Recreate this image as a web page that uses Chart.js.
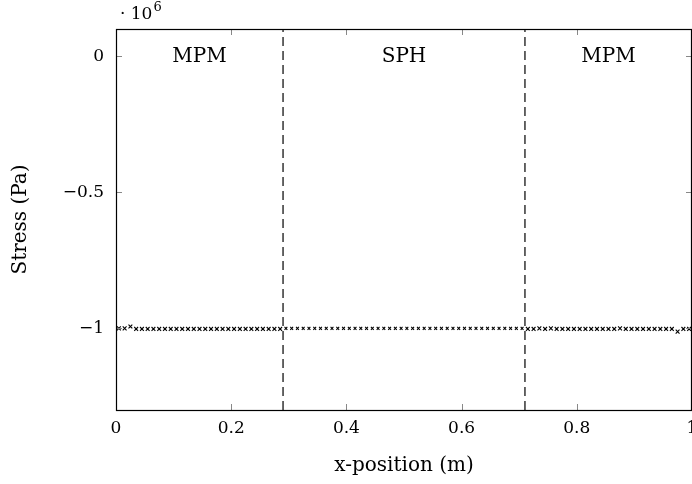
<!DOCTYPE html>
<html><head><meta charset="utf-8">
<script src="https://cdn.jsdelivr.net/npm/chart.js@4"></script>
<style>html,body{margin:0;padding:0;background:#fff}</style>
</head><body>
<canvas id="c" width="692" height="484"></canvas>
<script>
// ---- data (x-position in m, stress in 1e6 Pa) ----
const mpmLeftX = [0.005,0.015,0.025,0.035,0.045,0.055,0.065,0.075,0.085,0.095,0.105,0.115,0.125,0.135,0.145,0.155,0.165,0.175,0.185,0.195,0.205,0.215,0.225,0.235,0.245,0.255,0.265,0.275,0.285];
const mpmLeftY = [-1.0,-1.0,-0.993,-1.002,-1.002,-1.002,-1.002,-1.002,-1.002,-1.002,-1.002,-1.002,-1.002,-1.002,-1.002,-1.002,-1.002,-1.002,-1.002,-1.002,-1.002,-1.002,-1.002,-1.002,-1.002,-1.002,-1.002,-1.002,-1.002];
const sphX = [0.295,0.305,0.315,0.325,0.335,0.345,0.355,0.365,0.375,0.385,0.395,0.405,0.415,0.425,0.435,0.445,0.455,0.465,0.475,0.485,0.495,0.505,0.515,0.525,0.535,0.545,0.555,0.565,0.575,0.585,0.595,0.605,0.615,0.625,0.635,0.645,0.655,0.665,0.675,0.685,0.695,0.705];
const sphY = [-1.0,-1.0,-1.0,-1.0,-1.0,-1.0,-1.0,-1.0,-1.0,-1.0,-1.0,-1.0,-1.0,-1.0,-1.0,-1.0,-1.0,-1.0,-1.0,-1.0,-1.0,-1.0,-1.0,-1.0,-1.0,-1.0,-1.0,-1.0,-1.0,-1.0,-1.0,-1.0,-1.0,-1.0,-1.0,-1.0,-1.0,-1.0,-1.0,-1.0,-1.0,-1.0];
const mpmRightX = [0.715,0.725,0.735,0.745,0.755,0.765,0.775,0.785,0.795,0.805,0.815,0.825,0.835,0.845,0.855,0.865,0.875,0.885,0.895,0.905,0.915,0.925,0.935,0.945,0.955,0.965,0.975,0.985,0.995];
const mpmRightY = [-1.002,-1.002,-1.0,-1.002,-1.0,-1.002,-1.002,-1.002,-1.002,-1.002,-1.002,-1.002,-1.002,-1.002,-1.002,-1.002,-1.0,-1.002,-1.002,-1.002,-1.002,-1.002,-1.002,-1.002,-1.002,-1.002,-1.012,-1.002,-1.002];
const dividers = [0.29, 0.71];
const regionLabels = ['MPM', 'SPH', 'MPM'];
const regionLabelX = [0.145, 0.5, 0.855];
const xTicks = [0, 0.2, 0.4, 0.6, 0.8, 1];
const yTicks = [-1, -0.5, 0];
const xRange = [0, 1];
const yRange = [-1.3, 0.1];

const FONT = "'DejaVu Serif', 'Liberation Serif', serif";
const FS = 20;     // labels / titles
const TFS = 17;    // tick labels
const zip = (xs, ys) => xs.map((x, i) => ({x: x, y: ys[i]}));
const noPad = () => ({left: 0, right: 0, top: 0, bottom: 0});

const decor = {
  id: 'decor',
  afterDraw(chart) {
    const ctx = chart.ctx, a = chart.chartArea;
    const xs = chart.scales.x, ys = chart.scales.y;
    ctx.save();
    // inward ticks on all four sides
    ctx.strokeStyle = '#888';
    ctx.lineWidth = 1;
    ctx.beginPath();
    xTicks.forEach(v => {
      const px = Math.round(xs.getPixelForValue(v)) + 0.5;
      ctx.moveTo(px, a.bottom); ctx.lineTo(px, a.bottom - 6);
      ctx.moveTo(px, a.top); ctx.lineTo(px, a.top + 6);
    });
    yTicks.forEach(v => {
      const py = Math.round(ys.getPixelForValue(v)) + 0.5;
      ctx.moveTo(a.left, py); ctx.lineTo(a.left + 6, py);
      ctx.moveTo(a.right, py); ctx.lineTo(a.right - 6, py);
    });
    ctx.stroke();
    // frame
    ctx.strokeStyle = '#000';
    ctx.lineWidth = 1.2;
    ctx.strokeRect(Math.round(a.left) + 0.5, Math.round(a.top) + 0.5, Math.round(a.right - a.left) - 1, Math.round(a.bottom - a.top));
    // region labels
    ctx.fillStyle = '#000';
    ctx.font = FS + 'px ' + FONT;
    ctx.textAlign = 'center';
    ctx.textBaseline = 'middle';
    regionLabels.forEach((t, i) => {
      ctx.fillText(t, xs.getPixelForValue(regionLabelX[i]), ys.getPixelForValue(0) + 1);
    });
    // exponent
    ctx.textAlign = 'left';
    ctx.textBaseline = 'alphabetic';
    ctx.font = '17px ' + FONT;
    ctx.fillText('\u00B7 10', a.left + 4, a.top - 10);
    const w = ctx.measureText('\u00B7 10').width;
    ctx.font = '13px ' + FONT;
    ctx.fillText('6', a.left + 5 + w, a.top - 18);
    ctx.restore();
  }
};

new Chart(document.getElementById('c'), {
  type: 'scatter',
  data: {
    datasets: [
      {data: zip(mpmLeftX, mpmLeftY), pointStyle: 'crossRot', pointRadius: 2.7, borderColor: '#000', borderWidth: 1.1, showLine: false},
      {data: zip(sphX, sphY), pointStyle: 'crossRot', pointRadius: 2, borderColor: '#000', borderWidth: 1.1, showLine: false},
      {data: zip(mpmRightX, mpmRightY), pointStyle: 'crossRot', pointRadius: 2.7, borderColor: '#000', borderWidth: 1.1, showLine: false},
      ...dividers.map(d => ({
        data: [{x: d, y: yRange[0]}, {x: d, y: yRange[1]}],
        showLine: true, pointRadius: 0, borderColor: '#000', borderWidth: 1.2, borderDash: [9, 5]
      }))
    ]
  },
  options: {
    responsive: false,
    devicePixelRatio: 1,
    animation: false,
    layout: {autoPadding: false, padding: {top: 29, right: 0, left: 0, bottom: 0}},
    plugins: {legend: {display: false}, tooltip: {enabled: false}},
    scales: {
      x: {
        type: 'linear', min: xRange[0], max: xRange[1],
        afterBuildTicks: s => { s.ticks = xTicks.map(v => ({value: v})); },
        afterFit: s => { s.height = 74; s.paddingLeft = 0; s.paddingRight = 0; s.getPadding = noPad; },
        grid: {display: false, drawTicks: false, tickLength: 0},
        border: {display: false},
        ticks: {color: '#000', font: {family: FONT, size: TFS}, padding: 8, maxRotation: 0,
          callback: v => String(v)},
        title: {display: true, text: 'x-position (m)', color: '#000', font: {family: FONT, size: FS}, padding: {top: 0, bottom: 6}}
      },
      y: {
        type: 'linear', min: yRange[0], max: yRange[1],
        afterBuildTicks: s => { s.ticks = yTicks.map(v => ({value: v})); },
        afterFit: s => { s.width = 116; s.paddingTop = 0; s.paddingBottom = 0; s.getPadding = noPad; },
        grid: {display: false, drawTicks: false, tickLength: 0},
        border: {display: false},
        ticks: {color: '#000', font: {family: FONT, size: TFS}, padding: 12,
          callback: v => String(v).replace('-', '\u2212')},
        title: {display: true, text: 'Stress (Pa)', color: '#000', font: {family: FONT, size: FS}, padding: {top: 9, bottom: 0}}
      }
    }
  },
  plugins: [decor]
});
</script>
</body></html>
